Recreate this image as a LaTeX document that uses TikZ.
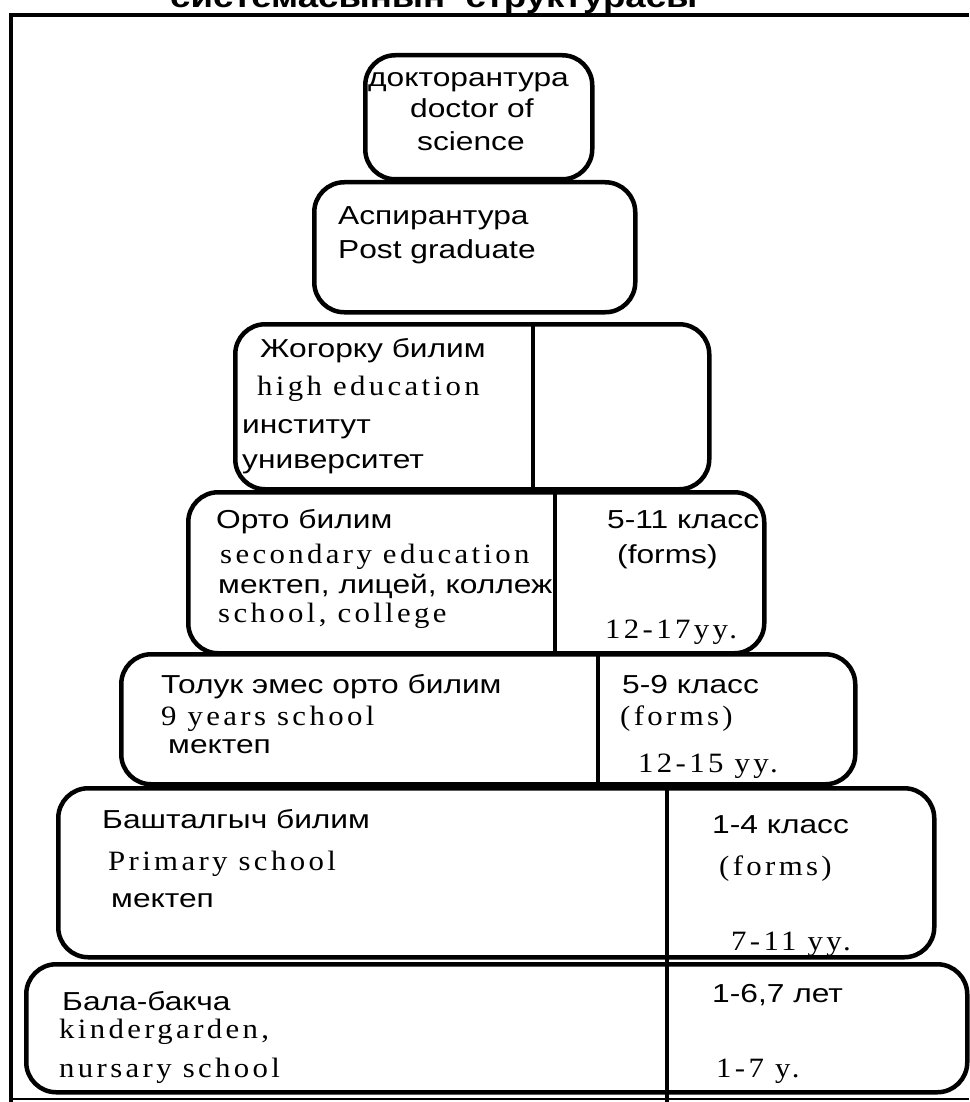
\documentclass[tikz,border=0pt]{standalone}
\usepackage{fontspec}
\newfontfamily\sfx{Liberation Sans}[FakeStretch=1.22]
\newfontfamily\rmx{Liberation Serif}[FakeStretch=1.1,LetterSpace=12]
\newfontfamily\ttlf{Liberation Sans}[FakeStretch=1.22]
\begin{document}
\begin{tikzpicture}[x=1pt,y=-1pt,
  box/.style={draw, line width=4.5pt, rounded corners=30pt, anchor=north west, inner sep=0pt},
  sl/.style={anchor=base west, inner sep=0pt, font=\sfx\fontsize{26}{30}\selectfont},
  rl/.style={anchor=base west, inner sep=0pt, font=\rmx\fontsize{28}{32}\selectfont},
  divline/.style={line width=4.5pt},
  frameline/.style={line width=4pt}]
\useasboundingbox (0,0) rectangle (969,1102);
% frame
\coordinate (ftl) at (11,15);
\coordinate (ftr) at (969,15);
\coordinate (fbl) at (11,1102);
\coordinate (fbr) at (969,1099);
\draw[frameline] (ftr) -- (ftl) -- (fbl);
\draw[line width=1.2pt] (fbl |- fbr) -- (fbr);
% clipped title
\node[anchor=base west, inner sep=0pt, font=\ttlf\bfseries\fontsize{30}{36}\selectfont] (title) at (170,8) {системасынын\ \ структурасы};
% boxes
\node[box, minimum width=227pt, minimum height=124pt] (b1) at (363,53) {};
\node[box, minimum width=321pt, minimum height=130pt] (b2) at (312,180) {};
\node[box, minimum width=474pt, minimum height=165pt] (b3) at (233,322) {};
\node[box, minimum width=576pt, minimum height=161pt] (b4) at (186,490) {};
\node[box, minimum width=734pt, minimum height=130pt] (b5) at (119,652) {};
\node[box, minimum width=876pt, minimum height=169pt] (b6) at (56,786) {};
\node[box, minimum width=941pt, minimum height=128pt] (b7) at (24,962) {};
% dividers
\coordinate (d3) at (533,0);
\coordinate (d4) at (555,0);
\coordinate (d5) at (598,0);
\coordinate (d6) at (667,0);
\coordinate (dend) at (667,1102);
\draw[divline] (b3.north -| d3) -- (b3.south -| d3);
\draw[divline] (b4.north -| d4) -- (b4.south -| d4);
\draw[divline] (b5.north -| d5) -- (b5.south -| d5);
\draw[divline] (b6.north -| d6) -- (dend);
% box 1
\node[sl] (t1a) at (368,87) {докторантура};
\node[sl] (t1b) at (410,118) {doctor of};
\node[sl] (t1c) at (417,151) {science};
% box 2
\node[sl] (t2a) at (338,224) {Аспирантура};
\node[sl] (t2b) at (338,258) {Post graduate};
% box 3
\node[sl] (t3a) at (260,357) {Жогорку билим};
\node[rl] (t3b) at (257,395) {high education};
\node[sl] (t3c) at (242,433) {институт};
\node[sl] (t3d) at (242,468) {университет};
% box 4
\node[sl] (t4a) at (216,528) {Орто билим};
\node[rl] (t4b) at (220,563) {secondary education};
\node[sl] (t4c) at (218,593) {мектеп, лицей, коллеж};
\node[rl] (t4d) at (218,622) {school, college};
\node[sl] (t4e) at (607,528) {5-11 класс};
\node[sl] (t4f) at (617,563) {(forms)};
\node[rl] (t4g) at (605,638) {12-17yy.};
% box 5
\node[sl] (t5a) at (161,693) {Толук эмес орто билим};
\node[rl] (t5b) at (161,725) {9 years school};
\node[sl] (t5c) at (168,753) {мектеп};
\node[sl] (t5d) at (622,693) {5-9 класс};
\node[rl] (t5e) at (620,725) {(forms)};
\node[rl] (t5f) at (638,772) {12-15 yy.};
% box 6
\node[sl] (t6a) at (102,828) {Башталгыч билим};
\node[rl] (t6b) at (108,870) {Primary school};
\node[sl] (t6c) at (111,907) {мектеп};
\node[sl] (t6d) at (712,833) {1-4 класс};
\node[rl] (t6e) at (719,875) {(forms)};
\node[rl] (t6f) at (731,950) {7-11 yy.};
% box 7
\node[sl] (t7a) at (62,1010) {Бала-бакча};
\node[rl] (t7b) at (59,1038) {kindergarden,};
\node[rl] (t7c) at (59,1077) {nursary school};
\node[sl] (t7d) at (712,1002) {1-6,7 лет};
\node[rl] (t7e) at (716,1077) {1-7 y.};
\end{tikzpicture}
\end{document}
